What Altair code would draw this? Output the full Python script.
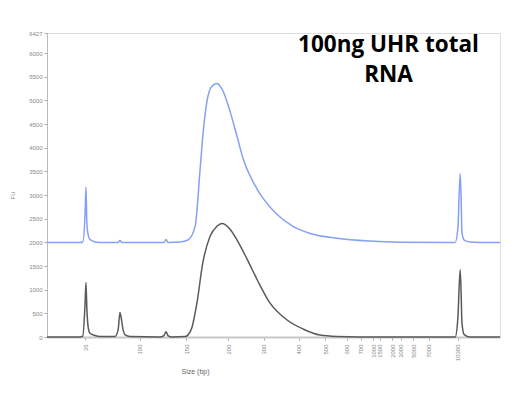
import altair as alt
import pandas as pd

# migration position (arbitrary time units) and fluorescence (FU)
blue_t = [0, 7.3, 7.9, 8.4, 8.6, 8.8, 9.1, 9.5, 10.6, 11.7, 15.7, 16.1, 16.6, 25.8, 26.3, 26.7,
          29.4, 31.1, 32.7, 33.8, 34.4, 35.3, 36.4, 37.5, 38.9, 40.4, 41.9, 43.3, 45.5, 47.7,
          50.8, 54.3, 58.1, 64.0, 71.3, 77.9, 90.1, 90.7, 91.2, 91.4, 91.6, 92.1, 93.4, 95.6, 100]
blue_fu = [2000, 2000, 2010, 2600, 3170, 2400, 2150, 2060, 2010, 2000, 2000, 2040, 2000, 2000, 2060, 2000,
           2010, 2050, 2340, 3550, 4250, 4980, 5300, 5360, 5190, 4770, 4260, 3770, 3280, 2930,
           2590, 2340, 2190, 2090, 2030, 2005, 2000, 2300, 3450, 3000, 2200, 2050, 2010, 2000, 2000]

black_t = [0, 7.3, 7.9, 8.4, 8.6, 8.8, 9.1, 9.5, 10.6, 11.7, 15.0, 15.7, 16.1, 16.3, 16.8, 17.2, 18.3,
           24.9, 25.8, 26.3, 26.7, 27.6, 30.5, 31.1, 32.0, 33.1, 34.4, 36.0, 37.5, 38.6, 40.4, 41.9,
           44.2, 46.4, 49.2, 53.0, 56.5, 60.3, 64.0, 69.1, 90.1, 90.7, 91.2, 91.4, 91.6, 92.1, 93.4, 100]
black_fu = [0, 0, 20, 700, 1150, 600, 200, 80, 30, 10, 10, 150, 520, 450, 150, 50, 10,
            0, 30, 110, 30, 0, 10, 40, 200, 720, 1570, 2130, 2340, 2400, 2280, 2060,
            1640, 1210, 720, 360, 170, 40, 10, 0, 0, 400, 1420, 1000, 300, 50, 0, 0]

tick_t = [8.4, 20.5, 30.7, 40.0, 47.9, 55.6, 61.4, 66.2, 69.3, 72.0, 73.5, 76.2, 78.1, 80.8, 84.3, 90.7]
tick_bp = ["35", "100", "150", "200", "300", "400", "500", "600", "700", "1000", "1500",
           "2000", "3000", "5000", "7000", "10380"]
y_ticks = [0, 500, 1000, 1500, 2000, 2500, 3000, 3500, 4000, 4500, 5000, 5500, 6000, 6427]

df = pd.concat([
    pd.DataFrame({"t": blue_t, "fu": blue_fu, "s": "blue"}),
    pd.DataFrame({"t": black_t, "fu": black_fu, "s": "black"}),
])

label_expr = " : ".join(
    f"abs(datum.value - {t}) < 0.01 ? '{b}'" for t, b in zip(tick_t, tick_bp)
) + " : ''"

chart = alt.Chart(df).mark_line(strokeWidth=1.5, interpolate="monotone").encode(
    x=alt.X("t:Q", scale=alt.Scale(domain=[0, 100], nice=False, zero=False),
            axis=alt.Axis(values=tick_t, labelExpr=label_expr, labelAngle=270,
                          labelAlign="right", labelBaseline="middle", labelFontSize=6,
                          labelColor="#888", labelPadding=4, tickSize=3, tickColor="#aaa",
                          domainColor="#c8c8c8", domainWidth=2, grid=False,
                          title="Size (bp)", titleFontSize=7, titleFontWeight="normal",
                          titleColor="#666", titleX=148, titleY=30, titleAnchor="middle")),
    y=alt.Y("fu:Q", scale=alt.Scale(domain=[0, 6427], nice=False),
            axis=alt.Axis(values=y_ticks, format="d", labelFontSize=6, labelColor="#888",
                          tickSize=3, tickColor="#aaa", domainColor="#bbb", grid=False,
                          title="FU", titleFontSize=6, titleFontWeight="normal",
                          titleColor="#888", titleX=-32, titleY=162)),
    color=alt.Color("s:N", scale=alt.Scale(domain=["blue", "black"], range=["#86a0f4", "#5a5a5a"]),
                    legend=None),
    detail="s:N",
).properties(
    width=453, height=304,
    padding={"left": 47, "top": 33, "right": 26, "bottom": 59},
    autosize=alt.AutoSizeParams(type="none"),
    title=alt.TitleParams(text=["100ng UHR total", "RNA"], fontSize=22.5, font="Open Sans",
                          fontWeight="bold", color="black", anchor="middle", dx=115,
                          baseline="top", lineHeight=30, dy=60),
).configure_view(stroke=None).configure(background="white")

chart.save("out.html", embed_options={"renderer": "svg", "actions": False})
